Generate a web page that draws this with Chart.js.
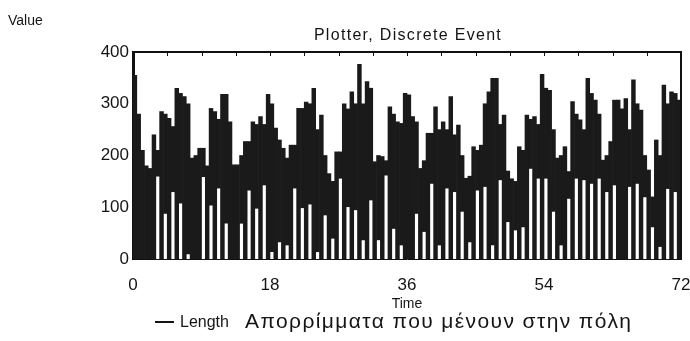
<!DOCTYPE html>
<html><head><meta charset="utf-8">
<script src="https://cdn.jsdelivr.net/npm/chart.js@4.4.0/dist/chart.umd.min.js"></script>
<style>
html,body{margin:0;padding:0;background:#fff;}
#wrap{position:relative;width:690px;height:341px;overflow:hidden;}
canvas{position:absolute;left:0;top:0;}
.t{position:absolute;font-family:"Liberation Sans",Arial,sans-serif;color:#151515;white-space:nowrap;line-height:1;}
</style></head><body>
<div id="wrap">
<canvas id="c" width="690" height="341"></canvas>
<div class="t" style="left:8px;top:13px;font-size:14px;">Value</div>
<div class="t" style="left:133px;width:550px;top:27px;font-size:16px;text-align:center;letter-spacing:1.3px;">Plotter, Discrete Event</div>
<div style="position:absolute;left:155px;top:321px;width:19px;height:2px;background:#151515;"></div>
<div class="t" style="left:180px;top:314px;font-size:16px;">Length</div>
<div class="t" style="left:245px;top:310px;font-size:21px;letter-spacing:1.4px;">Απορρίμματα που μένουν στην πόλη</div>
</div>
<script>
// Time (centre of each half-unit interval)
const times = [0.25,0.75,1.25,1.75,2.25,2.75,3.25,3.75,4.25,4.75,5.25,5.75,6.25,6.75,7.25,7.75,8.25,8.75,9.25,9.75,
10.25,10.75,11.25,11.75,12.25,12.75,13.25,13.75,14.25,14.75,15.25,15.75,16.25,16.75,17.25,17.75,18.25,18.75,19.25,19.75,
20.25,20.75,21.25,21.75,22.25,22.75,23.25,23.75,24.25,24.75,25.25,25.75,26.25,26.75,27.25,27.75,28.25,28.75,29.25,29.75,
30.25,30.75,31.25,31.75,32.25,32.75,33.25,33.75,34.25,34.75,35.25,35.75,36.25,36.75,37.25,37.75,38.25,38.75,39.25,39.75,
40.25,40.75,41.25,41.75,42.25,42.75,43.25,43.75,44.25,44.75,45.25,45.75,46.25,46.75,47.25,47.75,48.25,48.75,49.25,49.75,
50.25,50.75,51.25,51.75,52.25,52.75,53.25,53.75,54.25,54.75,55.25,55.75,56.25,56.75,57.25,57.75,58.25,58.75,59.25,59.75,
60.25,60.75,61.25,61.75,62.25,62.75,63.25,63.75,64.25,64.75,65.25,65.75,66.25,66.75,67.25,67.75,68.25,68.75,69.25,69.75,
70.25,70.75,71.25,71.75];
// Upper value of Length within each interval
const lengthHigh = [355,280,210,180,175,240,210,285,280,272,256,330,320,314,300,195,200,214,214,180,
291,285,270,318,318,265,182,182,200,227,227,265,260,275,260,318,300,253,230,214,
195,220,220,291,291,303,300,330,250,278,200,165,150,207,207,300,290,323,300,376,
300,343,330,188,200,198,190,294,280,265,262,320,317,275,265,175,190,243,243,294,
250,265,250,314,240,259,200,156,160,217,210,220,300,323,349,349,260,278,170,155,
150,217,210,278,270,275,260,357,330,326,250,195,200,217,169,304,280,269,250,349,
320,307,280,191,200,227,307,307,290,310,250,346,300,288,200,172,120,230,200,336,
300,323,320,307];
// Lower value of Length within each interval
const lengthLow = [0,0,0,0,0,0,160,0,88,0,130,0,108,0,10,0,0,0,159,0,
104,0,137,0,69,0,0,0,69,0,133,0,98,0,143,0,14,0,33,0,
27,0,137,0,99,0,106,0,14,0,85,0,40,0,156,0,101,0,95,0,
37,0,114,0,37,0,162,0,59,0,27,0,0,0,88,0,53,0,146,0,
27,0,137,0,130,0,92,0,33,0,133,0,140,0,27,0,153,0,72,0,
56,0,62,0,175,0,156,0,156,0,92,0,27,0,117,0,156,0,153,0,
146,0,156,0,130,0,143,0,0,0,140,0,146,0,120,0,62,0,24,0,
136,0,130,0];
const xTicks = [0,18,36,54,72];
const yTicks = [0,100,200,300,400];
const topTicks = [4.5,9,13.5,18,22.5,27,31.5,36,40.5,45,49.5,54,58.5,63,67.5];

const FONT = '"Liberation Sans", Arial, sans-serif';

const framePlugin = {
  id: 'frame',
  afterDraw(chart) {
    const {ctx, chartArea: a, scales: {x}} = chart;
    ctx.save();
    ctx.strokeStyle = '#111';
    ctx.lineWidth = 2;
    ctx.beginPath();
    ctx.moveTo(a.left, a.top);
    ctx.lineTo(a.right, a.top);
    ctx.lineTo(a.right, a.bottom);
    ctx.stroke();
    ctx.lineWidth = 1;
    ctx.beginPath();
    topTicks.forEach(v => {
      const px = Math.round(x.getPixelForValue(v)) + 0.5;
      ctx.moveTo(px, a.top);
      ctx.lineTo(px, a.top + 4);
    });
    ctx.stroke();
    ctx.restore();
  }
};

new Chart(document.getElementById('c'), {
  type: 'bar',
  data: {
    datasets: [{
      label: 'Length',
      data: times.map((t, i) => ({x: t, y: [lengthLow[i], lengthHigh[i]]})),
      backgroundColor: '#1a1a1a',
      borderWidth: 0,
      barPercentage: 1,
      categoryPercentage: 1,
      grouped: false
    }]
  },
  options: {
    responsive: false,
    animation: false,
    layout: {padding: {left: 0, top: 52, right: 9, bottom: 28}},
    plugins: {legend: {display: false}, tooltip: {enabled: false}},
    scales: {
      x: {
        type: 'linear', min: 0, max: 72, offset: false,
        afterBuildTicks: s => { s.ticks = xTicks.map(v => ({value: v})); },
        grid: {display: false, drawTicks: false},
        border: {display: true, color: '#111', width: 1},
        ticks: {padding: 16, color: '#151515', maxRotation: 0, autoSkip: false, font: {family: FONT, size: 17}},
        title: {display: true, text: 'Time', color: '#151515', padding: 0, font: {family: FONT, size: 14}},
        afterFit: s => { s.height = 54; s.paddingLeft = 0; s.paddingRight = 0; }
      },
      y: {
        min: 0, max: 400,
        afterBuildTicks: s => { s.ticks = yTicks.map(v => ({value: v})); },
        grid: {display: false, drawTicks: false},
        border: {display: true, color: '#111', width: 3},
        ticks: {padding: 4, color: '#151515', font: {family: FONT, size: 17}},
        afterFit: s => { s.width = 133; s.paddingTop = 0; s.paddingBottom = 0; }
      }
    }
  },
  plugins: [framePlugin]
});
</script>
</body></html>
